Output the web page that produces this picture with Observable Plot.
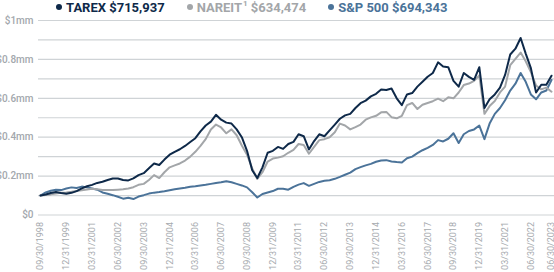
<!DOCTYPE html>
<html>
<head>
<meta charset="utf-8">
<script src="https://cdn.jsdelivr.net/npm/d3@7"></script>
<script src="https://cdn.jsdelivr.net/npm/@observablehq/plot@0.6"></script>
<style>
  html, body { margin: 0; padding: 0; background: #fff; }
  body { width: 554px; height: 272px; overflow: hidden; font-family: Roboto, sans-serif; }
  #legend { height: 15px; line-height: 15px; font-size: 13px; font-weight: bold; white-space: nowrap; padding-left: 56px; }
  #legend span.item { display: inline-block; margin-right: 22px; }
  #legend span.dot { display: inline-block; width: 6px; height: 6px; border-radius: 50%; margin-right: 4px; vertical-align: 2px; }
  #legend sup { font-size: 8px; vertical-align: 6px; line-height: 0; margin-left: 1px; }
  svg { display: block; }
</style>
</head>
<body>
<div id="legend"></div>
<div id="chart"></div>
<script>
// Series names, legend values and colours
const seriesNames = ["TAREX", "NAREIT", "S&P 500"];
const legendValues = ["$715,937", "$634,474", "$694,343"];
const colors = ["#0e2949", "#a3a6a9", "#4b7399"];

// Quarter-end dates, 09/30/1998 .. 06/30/2023 (100 quarters)
const quarterDates = Array.from({length: 100}, (_, i) => new Date(Date.UTC(1998, 9 + 3 * i, 0)));

// Values in $ millions (growth of $100,000)
const tarex = [
  0.100, 0.105, 0.113, 0.118, 0.113, 0.109, 0.114, 0.123, 0.137, 0.148,
  0.155, 0.165, 0.171, 0.180, 0.188, 0.188, 0.180, 0.178, 0.188, 0.205,
  0.215, 0.240, 0.265, 0.257, 0.285, 0.310, 0.325, 0.338, 0.355, 0.375,
  0.395, 0.430, 0.460, 0.480, 0.515, 0.490, 0.475, 0.470, 0.440, 0.400,
  0.330, 0.230, 0.190, 0.245, 0.320, 0.330, 0.350, 0.340, 0.365, 0.376,
  0.415, 0.405, 0.337, 0.380, 0.415, 0.405, 0.435, 0.465, 0.495, 0.512,
  0.520, 0.550, 0.575, 0.588, 0.610, 0.623, 0.645, 0.643, 0.650, 0.600,
  0.565, 0.620, 0.627, 0.660, 0.685, 0.711, 0.730, 0.785, 0.763, 0.760,
  0.690, 0.660, 0.730, 0.710, 0.695, 0.760, 0.550, 0.595, 0.620, 0.655,
  0.720, 0.825, 0.855, 0.910, 0.830, 0.755, 0.630, 0.670, 0.670, 0.716
];
const nareit = [
  0.100, 0.103, 0.106, 0.110, 0.114, 0.116, 0.119, 0.123, 0.127, 0.131,
  0.135, 0.133, 0.128, 0.128, 0.128, 0.130, 0.132, 0.136, 0.143, 0.155,
  0.160, 0.180, 0.205, 0.190, 0.220, 0.245, 0.255, 0.265, 0.280, 0.300,
  0.325, 0.355, 0.390, 0.440, 0.465, 0.450, 0.420, 0.440, 0.410, 0.357,
  0.310, 0.240, 0.185, 0.220, 0.275, 0.290, 0.295, 0.302, 0.320, 0.335,
  0.365, 0.360, 0.315, 0.350, 0.385, 0.390, 0.400, 0.425, 0.470, 0.460,
  0.440, 0.452, 0.465, 0.490, 0.502, 0.510, 0.528, 0.530, 0.503, 0.497,
  0.510, 0.565, 0.576, 0.545, 0.567, 0.576, 0.585, 0.598, 0.585, 0.605,
  0.600, 0.630, 0.668, 0.676, 0.690, 0.718, 0.520, 0.560, 0.586, 0.630,
  0.660, 0.770, 0.803, 0.835, 0.790, 0.735, 0.665, 0.646, 0.655, 0.634
];
const sp500 = [
  0.100, 0.116, 0.125, 0.130, 0.128, 0.136, 0.142, 0.139, 0.146, 0.142,
  0.136, 0.130, 0.116, 0.109, 0.102, 0.094, 0.084, 0.089, 0.082, 0.095,
  0.102, 0.110, 0.115, 0.118, 0.122, 0.127, 0.132, 0.136, 0.140, 0.145,
  0.148, 0.152, 0.155, 0.160, 0.165, 0.168, 0.174, 0.168, 0.160, 0.152,
  0.142, 0.117, 0.090, 0.108, 0.116, 0.123, 0.135, 0.135, 0.130, 0.145,
  0.156, 0.164, 0.150, 0.160, 0.170, 0.176, 0.179, 0.186, 0.196, 0.207,
  0.218, 0.236, 0.246, 0.255, 0.263, 0.274, 0.280, 0.282, 0.275, 0.272,
  0.270, 0.292, 0.300, 0.318, 0.333, 0.345, 0.360, 0.385, 0.378, 0.392,
  0.420, 0.370, 0.415, 0.432, 0.440, 0.460, 0.390, 0.470, 0.520, 0.550,
  0.590, 0.640, 0.675, 0.730, 0.685, 0.620, 0.595, 0.630, 0.640, 0.694
];

// Axis ticks
const xTickLabels = ["09/30/1998","12/31/1999","03/31/2001","06/30/2002","09/30/2003","12/31/2004",
  "03/31/2006","06/30/2007","09/30/2008","12/31/2009","03/31/2011","06/30/2012","09/30/2013",
  "12/31/2014","03/31/2016","06/30/2017","09/30/2018","12/31/2019","03/31/2021","06/30/2022","06/30/2023"];
const yGridValues = [0, 0.1, 0.2, 0.3, 0.4, 0.5, 0.6, 0.7, 0.8, 0.9, 1.0];
const yTickValues = [0, 0.2, 0.4, 0.6, 0.8, 1.0];

const parseTick = d3.utcParse("%m/%d/%Y");
const xTicks = xTickLabels.map(parseTick);

const allSeries = [tarex, nareit, sp500];
const data = [];
// draw order: S&P, NAREIT, TAREX on top
[2, 1, 0].forEach(s => {
  allSeries[s].forEach((v, i) => data.push({series: seriesNames[s], date: quarterDates[i], value: v}));
});

// Legend
const legend = document.getElementById("legend");
seriesNames.forEach((n, i) => {
  const item = document.createElement("span");
  item.className = "item";
  item.style.color = colors[i];
  const dot = document.createElement("span");
  dot.className = "dot";
  dot.style.background = colors[i];
  item.appendChild(dot);
  if (n === "NAREIT") {
    item.appendChild(document.createTextNode("NAREIT"));
    const sup = document.createElement("sup");
    sup.textContent = "1";
    item.appendChild(sup);
    item.appendChild(document.createTextNode(" " + legendValues[i]));
  } else {
    item.appendChild(document.createTextNode(n + " " + legendValues[i]));
  }
  legend.appendChild(item);
});

const chart = Plot.plot({
  width: 554,
  height: 257,
  marginLeft: 38,
  marginRight: 0,
  marginTop: 5,
  marginBottom: 57.5,
  style: {fontFamily: "Roboto, sans-serif", background: "#fff", overflow: "visible"},
  x: {
    type: "utc",
    domain: [xTicks[0], xTicks[xTicks.length - 1]],
    range: [40, 551],
    ticks: xTicks,
    tickFormat: d3.utcFormat("%m/%d/%Y"),
    tickRotate: -90,
    tickSize: 0,
    tickPadding: 7,
    label: null
  },
  y: {
    domain: [0, 1],
    ticks: yTickValues,
    tickFormat: v => v === 0 ? "$0" : "$" + d3.format("~g")(v) + "mm",
    tickSize: 0,
    tickPadding: 5,
    label: null
  },
  color: {domain: seriesNames, range: colors},
  marks: [
    Plot.ruleY(yGridValues, {stroke: "#cfd3d6", strokeWidth: 1.2}),
    Plot.line(data, {x: "date", y: "value", z: "series", stroke: "series", strokeWidth: 2, curve: "linear"})
  ]
});
document.getElementById("chart").appendChild(chart);
d3.select(chart).selectAll("g[aria-label='x-axis tick label']").attr("fill", "#a6aaae").attr("font-size", 9);
d3.select(chart).selectAll("g[aria-label='y-axis tick label']").attr("fill", "#a3a8ad").attr("font-size", 10).attr("font-weight", 500);
</script>
</body>
</html>
